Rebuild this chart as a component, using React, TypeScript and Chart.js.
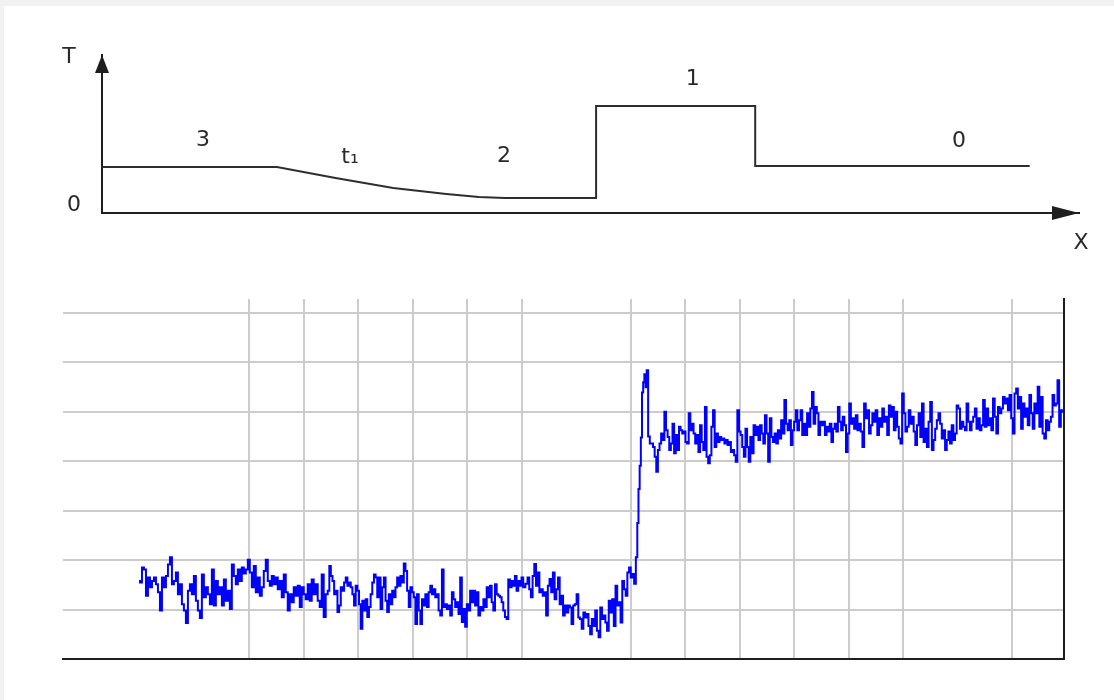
import React, { useEffect, useRef } from "react";
import { Chart, registerables } from "chart.js";

Chart.register(...registerables);

// ---------- Top schematic (T vs X) ----------
const profileX = [0, 18.8, 25.1, 31.3, 37.0, 40.5, 43.3, 53.1, 53.1, 70.2, 70.2, 99.7];
const profileT = [4.6, 4.6, 3.5, 2.5, 1.9, 1.6, 1.5, 1.5, 10.7, 10.7, 4.7, 4.7];
const zoneLabels = ["3", "t\u2081", "2", "1", "0"];
const zoneLabelX = [10.85, 26.65, 43.2, 63.5, 92.1];
const zoneLabelT = [7.3, 5.6, 5.7, 13.4, 7.2];
const axisNames = ["T", "X"];
const originLabel = "0";

// ---------- Bottom signal ----------
const gridX = [4, 5, 6, 7, 8, 9, 11, 12, 13, 14, 15, 16, 18];
const gridY = [1, 2, 3, 4, 5, 6, 7];

const segA = [
  1.58, 1.55, 1.85, 1.81, 1.28, 1.65, 1.45, 1.58, 1.65, 1.51, 1.35, 0.98, 1.65, 1.45, 1.68, 1.91,
  2.06, 1.51, 1.58, 1.75, 1.31, 1.51, 1.11, 0.98, 0.73, 1.38, 1.51, 1.31, 1.68, 1.18, 0.98, 0.83,
  1.71, 1.25, 1.45, 1.31, 1.11, 1.81, 1.08, 1.58, 1.31, 1.45, 1.08, 1.61, 1.18, 1.38, 1.01, 1.91,
  1.68, 1.51, 1.81, 1.58, 1.85, 1.73, 1.81, 2.01, 1.75, 1.45, 1.88, 1.35, 1.65, 1.28, 1.45, 1.78,
  2.01, 1.58, 1.48, 1.68, 1.51, 1.65, 1.41, 1.58, 1.25, 1.71, 1.35, 0.98, 1.31, 1.15, 1.45, 1.28,
  1.48, 1.05, 1.45, 1.31, 1.21, 1.51, 1.18, 1.61, 1.31, 1.51, 1.18, 1.05, 1.71, 0.85, 1.31, 1.38,
];
const segB = [
  1.88, 1.68, 1.58, 1.31, 1.38, 0.95, 1.08, 1.45, 1.38, 1.55, 1.65, 1.48, 1.55, 1.45, 1.31, 1.08,
  1.48, 1.38, 1.11, 0.61, 1.18, 0.98, 1.21, 0.85, 1.05, 1.31, 1.55, 1.71, 1.65, 1.25, 1.65, 1.01,
  1.45, 1.65, 1.18, 0.95, 1.31, 1.11, 1.38, 1.25, 1.45, 1.65, 1.48, 1.68, 1.55, 1.93, 1.78, 1.38,
  1.05, 1.45, 1.35, 1.25, 0.71, 1.31, 0.98, 0.71, 1.21, 1.08, 1.31, 1.05, 1.35, 1.48, 1.31, 1.41,
  1.25, 1.31, 0.98, 0.88, 1.81, 1.05, 1.11, 1.01, 1.08, 0.88, 1.35, 1.21, 1.05, 1.15, 0.91, 1.65,
  0.75, 1.01, 0.65, 1.11, 0.98, 1.38, 1.15, 1.38, 1.08, 1.35, 0.88, 1.05, 0.98, 1.21, 1.05, 1.45,
  1.25, 1.48, 1.15, 0.98, 1.51, 1.31, 1.28, 1.25, 1.15, 0.98, 0.85, 0.81, 1.61, 1.45, 1.58, 1.48,
  1.68, 1.38, 1.58, 1.48, 1.65, 1.45,
];
const segC = [
  1.52, 1.65, 1.41, 1.25, 1.68, 1.92, 1.48, 1.75, 1.35, 1.41, 1.28, 1.35, 0.88, 1.48, 1.62, 1.35,
  1.75, 1.21, 1.41, 1.65, 1.11, 1.28, 0.88, 1.08, 0.94, 1.08, 1.04, 0.71, 1.08, 1.11, 1.31, 0.84,
  0.81, 0.61, 0.94, 0.84, 0.91, 0.67, 0.50, 0.81, 0.67, 0.98, 0.57, 0.44, 1.04, 0.81, 0.88, 0.74,
  0.57, 1.18, 0.94, 1.21, 0.67, 1.48, 1.08, 1.15, 0.74, 1.58, 1.41, 1.28, 1.75, 1.85, 1.65, 1.72,
  1.52,
];
const segD = [2.06, 2.75, 3.44, 3.91, 4.48, 5.39, 5.6, 5.76, 5.5, 5.84];
const segE = [
  4.5, 4.36, 4.36, 4.29, 4.09, 3.79, 4.23, 4.36, 4.56, 4.43, 5.0, 4.63, 4.49, 4.23, 4.36, 4.76,
  4.16, 4.53, 4.23, 4.7, 4.63, 4.56, 4.6, 4.39, 4.36, 4.97, 4.63, 4.76, 4.56, 4.36, 4.53, 4.19,
  4.73, 4.39, 4.23, 5.1, 4.09, 3.96, 4.12, 4.7, 5.03, 4.29, 4.56, 4.39, 4.49, 4.43, 4.46, 4.36,
  4.43, 4.33, 4.39, 4.19, 4.23, 4.12, 3.99, 5.03, 4.6, 4.53, 4.29, 4.09, 4.66, 4.29, 3.99, 4.49,
  4.16, 4.73, 4.53, 4.7, 4.43, 4.73, 4.56, 4.36, 4.93, 4.56, 3.99, 4.87, 4.49, 4.39, 4.56, 4.36,
  4.63, 4.46, 4.83, 4.56, 5.24, 4.76, 4.63, 4.83, 4.33, 4.63, 4.8, 5.03, 4.63, 4.83, 5.03, 4.53,
  4.76, 4.53, 4.97, 4.7, 5.07, 5.4, 4.76, 5.1, 4.97, 4.53, 4.8, 4.73, 4.8, 4.53, 4.7, 4.6,
  4.76, 4.39, 4.66, 4.76, 4.6, 5.1, 4.8, 4.63, 4.9, 4.73, 4.19, 4.56, 5.17, 4.76, 4.87,
];
const segF = [
  4.66, 4.93, 4.63, 4.76, 4.6, 4.29, 5.17, 4.87, 5.03, 4.56, 4.73, 4.97, 4.8, 5.03, 4.53, 4.87,
  4.7, 5.07, 4.8, 4.9, 4.53, 5.13, 4.9, 5.1, 4.63, 5.0, 4.7, 4.46, 4.36, 5.37, 4.97, 4.6,
  4.7, 5.03, 4.76, 4.9, 4.6, 4.33, 4.73, 4.97, 4.49, 5.17, 4.39, 4.66, 4.29, 4.8, 5.2, 4.23,
  4.43, 4.66, 4.83, 4.97, 4.76, 4.46, 4.63, 4.23, 4.43, 4.6, 4.36, 4.73, 4.43, 4.56, 5.13, 5.07,
  4.66, 4.8, 4.7, 4.63, 5.17, 4.8, 4.63, 4.8, 4.9, 5.07, 4.66, 4.87, 4.63, 4.73, 5.24, 4.7,
  5.07, 4.73, 4.87, 4.63, 5.27, 4.9, 4.56, 5.1, 4.97, 5.07, 5.3, 5.17, 5.27, 5.03, 5.34, 4.87,
  4.56, 5.37, 5.47, 5.07, 5.3, 4.66, 5.17, 4.9, 5.07, 4.73, 5.34, 4.97, 4.66, 5.17, 4.97, 5.51,
  4.7, 5.3, 4.56, 4.46, 4.83, 4.63, 4.8, 4.9, 5.34, 5.13, 5.17, 5.64, 4.7, 5.03, 5.0,
];
const segments = [segA, segB, segC, segD, segE, segF];
// sample-time range (x units) covered by each recorded segment
const segmentSpans = [
  [1.981, 5.462],
  [5.486, 9.046],
  [9.095, 11.082],
  [11.114, 11.308],
  [11.339, 15.088],
  [15.119, 18.941],
];

function buildSignal() {
  const pts: { x: number; y: number }[] = [];
  segments.forEach((seg, s) => {
    const [x0, x1] = segmentSpans[s];
    const n = seg.length;
    seg.forEach((v, i) => {
      pts.push({ x: x0 + ((x1 - x0) * i) / Math.max(1, n - 1), y: v });
    });
  });
  return pts;
}

const FONT = '"DejaVu Sans", Verdana, sans-serif';

const diagramPlugin = {
  id: "diagramDecor",
  afterDraw(chart: any) {
    const { ctx, chartArea: a, scales } = chart;
    const xs = scales.x;
    const ys = scales.y;
    ctx.save();
    ctx.fillStyle = "#1e1e1e";
    // arrow on T axis
    ctx.beginPath();
    ctx.moveTo(a.left, a.top);
    ctx.lineTo(a.left - 7, a.top + 18);
    ctx.lineTo(a.left + 7, a.top + 18);
    ctx.closePath();
    ctx.fill();
    // arrow on X axis
    ctx.beginPath();
    ctx.moveTo(a.right, a.bottom);
    ctx.lineTo(a.right - 27, a.bottom - 7);
    ctx.lineTo(a.right - 27, a.bottom + 7);
    ctx.closePath();
    ctx.fill();

    ctx.fillStyle = "#2a2a2a";
    ctx.font = `22px ${FONT}`;
    ctx.textAlign = "center";
    ctx.textBaseline = "middle";
    zoneLabels.forEach((t, i) => {
      ctx.fillText(t, xs.getPixelForValue(zoneLabelX[i]), ys.getPixelForValue(zoneLabelT[i]));
    });
    ctx.fillText(axisNames[0], a.left - 33, a.top + 2);
    ctx.fillText(originLabel, a.left - 28, a.bottom - 8);
    ctx.fillText(axisNames[1], a.right + 2, a.bottom + 30);
    ctx.restore();
  },
};

export default function App() {
  const topRef = useRef<HTMLCanvasElement>(null);
  const botRef = useRef<HTMLCanvasElement>(null);

  useEffect(() => {
    document.body.style.margin = "0";
    const top = new Chart(topRef.current!, {
      type: "line",
      data: {
        datasets: [
          {
            data: profileX.map((x, i) => ({ x, y: profileT[i] })),
            borderColor: "#2e2e2e",
            borderWidth: 2,
            pointRadius: 0,
            tension: 0,
            fill: false,
          },
        ],
      },
      options: {
        animation: false,
        responsive: true,
        maintainAspectRatio: false,
        layout: { padding: { left: 102, top: 55, right: 35, bottom: 57 } },
        plugins: { legend: { display: false }, tooltip: { enabled: false } },
        scales: {
          x: {
            type: "linear",
            min: 0,
            max: 105,
            ticks: { display: false },
            grid: { display: false, drawTicks: false },
            border: { display: true, color: "#1e1e1e", width: 2 },
          },
          y: {
            type: "linear",
            min: 0,
            max: 15.8,
            ticks: { display: false },
            grid: { display: false, drawTicks: false },
            border: { display: true, color: "#1e1e1e", width: 2 },
          },
        },
      },
      plugins: [diagramPlugin],
    });

    const bot = new Chart(botRef.current!, {
      type: "line",
      data: {
        datasets: [
          {
            data: buildSignal(),
            borderColor: "#0000ff",
            borderWidth: 2,
            pointRadius: 0,
            tension: 0,
            stepped: "middle",
            fill: false,
          },
        ],
      },
      options: {
        animation: false,
        responsive: true,
        maintainAspectRatio: false,
        layout: { padding: { left: 63, top: 19, right: 50, bottom: 21 } },
        plugins: { legend: { display: false }, tooltip: { enabled: false } },
        scales: {
          x: {
            type: "linear",
            min: 0.587,
            max: 18.954,
            afterBuildTicks: (s: any) => {
              s.ticks = gridX.map((v) => ({ value: v }));
            },
            ticks: { display: false },
            grid: { color: "#cccccc", lineWidth: 2, drawTicks: false },
            border: { display: true, color: "#1e1e1e", width: 2 },
          },
          y: {
            type: "linear",
            position: "right",
            min: 0,
            max: 7.283,
            afterBuildTicks: (s: any) => {
              s.ticks = gridY.map((v) => ({ value: v }));
            },
            ticks: { display: false },
            grid: { color: "#cccccc", lineWidth: 2, drawTicks: false },
            border: { display: true, color: "#1e1e1e", width: 2 },
          },
        },
      },
    });

    return () => {
      top.destroy();
      bot.destroy();
    };
  }, []);

  return (
    <div
      style={{
        position: "relative",
        width: 1114,
        height: 700,
        background: "#f1f1f1",
        overflow: "hidden",
      }}
    >
      <div style={{ position: "absolute", left: 4, top: 6, right: 0, bottom: 0, background: "#ffffff" }} />
      <div style={{ position: "absolute", left: 0, top: 0, width: 1114, height: 270 }}>
        <canvas ref={topRef} />
      </div>
      <div style={{ position: "absolute", left: 0, top: 280, width: 1114, height: 400 }}>
        <canvas ref={botRef} />
      </div>
    </div>
  );
}
